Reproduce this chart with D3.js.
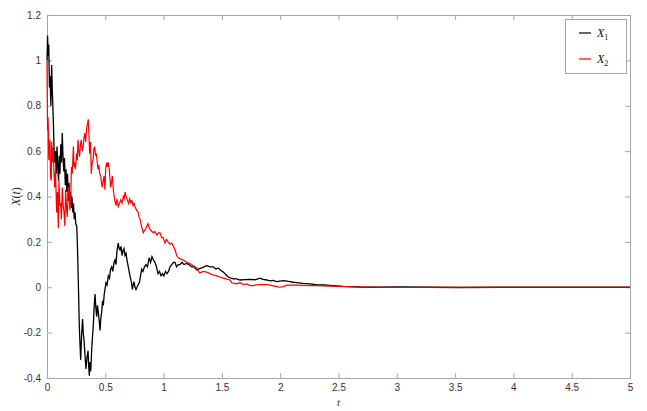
<html>
<head>
  <meta charset="utf-8">
  <title>X(t) sample paths</title>
  <script src="https://d3js.org/d3.v7.min.js"></script>
  <style>
    body { margin: 0; background: #fff; }
    .tick text { font-family: "Liberation Sans", Arial, sans-serif; font-size: 10px; fill: #333; }
  </style>
</head>
<body>
  <svg width="647" height="411"></svg>
  <script>
    // path X1 (black)
    const tX1 = [0, 0.003, 0.005, 0.010, 0.015, 0.021, 0.027, 0.033, 0.040, 0.046, 0.054, 0.060, 0.067, 0.073, 0.079, 0.086, 0.093, 0.099,
      0.105, 0.111, 0.118, 0.124, 0.131, 0.137, 0.144, 0.150, 0.157, 0.163, 0.170, 0.176, 0.183, 0.189, 0.196, 0.202, 0.208, 0.214,
      0.221, 0.227, 0.234, 0.240, 0.247, 0.255, 0.260, 0.266, 0.272, 0.277, 0.283, 0.289, 0.296, 0.305, 0.311, 0.317, 0.326, 0.334,
      0.343, 0.352, 0.358, 0.363, 0.369, 0.375, 0.383, 0.390, 0.397, 0.405, 0.412, 0.419, 0.426, 0.433, 0.440, 0.448, 0.455, 0.461,
      0.469, 0.476, 0.483, 0.491, 0.497, 0.506, 0.515, 0.526, 0.536, 0.545, 0.555, 0.564, 0.575, 0.583, 0.592, 0.600, 0.611, 0.619,
      0.626, 0.635, 0.643, 0.652, 0.660, 0.669, 0.678, 0.686, 0.697, 0.708, 0.716, 0.725, 0.732, 0.739, 0.746, 0.755, 0.763, 0.772,
      0.780, 0.792, 0.802, 0.812, 0.823, 0.836, 0.849, 0.862, 0.875, 0.888, 0.900, 0.913, 0.926, 0.939, 0.952, 0.965, 0.978, 0.991,
      1.003, 1.016, 1.029, 1.042, 1.055, 1.070, 1.085, 1.098, 1.111, 1.126, 1.141, 1.158, 1.175, 1.198, 1.218, 1.240, 1.261, 1.284,
      1.298, 1.327, 1.346, 1.370, 1.398, 1.426, 1.449, 1.469, 1.488, 1.512, 1.535, 1.555, 1.578, 1.598, 1.627, 1.655, 1.698, 1.741,
      1.784, 1.827, 1.852, 1.884, 1.913, 1.938, 1.970, 1.998, 2.027, 2.056, 2.084, 2.110, 2.142, 2.196, 2.256, 2.307, 2.370, 2.427,
      2.485, 2.539, 2.599, 2.684, 2.813, 3.027, 3.285, 3.542, 3.885, 4.228, 4.571, 5.0];
    const x1 = [1.00, 1.06, 1.11, 1.02, 1.07, 0.88, 0.93, 0.80, 0.98, 0.86, 0.74, 0.62, 0.55, 0.60, 0.50, 0.62, 0.52, 0.47,
      0.58, 0.50, 0.63, 0.55, 0.68, 0.58, 0.51, 0.57, 0.45, 0.52, 0.42, 0.50, 0.38, 0.46, 0.36, 0.42, 0.35, 0.40,
      0.33, 0.37, 0.30, 0.33, 0.28, 0.27, 0.20, 0.08, -0.05, -0.17, -0.25, -0.32, -0.22, -0.14, -0.20, -0.23, -0.30, -0.36,
      -0.31, -0.28, -0.35, -0.39, -0.33, -0.37, -0.28, -0.22, -0.17, -0.08, -0.03, -0.09, -0.13, -0.08, -0.11, -0.15, -0.19, -0.14,
      -0.11, -0.06, -0.08, -0.03, -0.01, 0.02, 0.01, 0.05, 0.04, 0.08, 0.09, 0.07, 0.11, 0.12, 0.10, 0.16, 0.195, 0.17,
      0.165, 0.18, 0.14, 0.16, 0.17, 0.14, 0.15, 0.12, 0.09, 0.06, 0.04, 0.02, -0.01, 0.01, 0.025, 0.00, -0.01, 0.00,
      0.01, 0.02, 0.05, 0.08, 0.07, 0.09, 0.10, 0.09, 0.13, 0.11, 0.135, 0.12, 0.11, 0.09, 0.06, 0.07, 0.05, 0.06,
      0.05, 0.07, 0.06, 0.07, 0.09, 0.10, 0.11, 0.11, 0.09, 0.10, 0.10, 0.11, 0.10, 0.105, 0.10, 0.09, 0.09, 0.076,
      0.08, 0.085, 0.09, 0.095, 0.09, 0.09, 0.08, 0.085, 0.075, 0.067, 0.055, 0.045, 0.04, 0.037, 0.037, 0.032, 0.034, 0.035,
      0.033, 0.04, 0.035, 0.032, 0.028, 0.03, 0.025, 0.027, 0.029, 0.027, 0.025, 0.022, 0.02, 0.017, 0.015, 0.012, 0.01, 0.008,
      0.006, 0.004, 0.003, 0.001, 0.000, 0.001, 0.000, -0.001, 0.000, 0.000, 0.000, 0.000];

    // path X2 (red)
    const tX2 = [0, 0.003, 0.005, 0.009, 0.011, 0.015, 0.020, 0.026, 0.030, 0.037, 0.040, 0.047, 0.054, 0.060, 0.066, 0.073, 0.079, 0.083,
      0.090, 0.097, 0.103, 0.110, 0.117, 0.124, 0.131, 0.139, 0.146, 0.153, 0.160, 0.167, 0.174, 0.182, 0.189, 0.196, 0.203, 0.210,
      0.217, 0.226, 0.232, 0.238, 0.244, 0.255, 0.260, 0.266, 0.273, 0.280, 0.287, 0.294, 0.303, 0.311, 0.317, 0.323, 0.332, 0.340,
      0.347, 0.354, 0.360, 0.366, 0.373, 0.380, 0.388, 0.395, 0.402, 0.409, 0.416, 0.423, 0.431, 0.437, 0.444, 0.452, 0.461, 0.467,
      0.474, 0.482, 0.489, 0.497, 0.503, 0.512, 0.519, 0.526, 0.534, 0.546, 0.555, 0.560, 0.569, 0.576, 0.583, 0.592, 0.600, 0.611,
      0.622, 0.632, 0.643, 0.654, 0.662, 0.669, 0.678, 0.689, 0.699, 0.709, 0.720, 0.726, 0.738, 0.746, 0.755, 0.768, 0.783, 0.789,
      0.798, 0.806, 0.815, 0.826, 0.836, 0.849, 0.866, 0.879, 0.892, 0.912, 0.926, 0.943, 0.956, 0.969, 0.982, 0.995, 1.012, 1.025,
      1.038, 1.055, 1.070, 1.085, 1.098, 1.112, 1.126, 1.145, 1.169, 1.198, 1.226, 1.255, 1.284, 1.298, 1.312, 1.338, 1.370, 1.398,
      1.426, 1.455, 1.484, 1.512, 1.541, 1.569, 1.584, 1.598, 1.627, 1.655, 1.684, 1.713, 1.741, 1.755, 1.784, 1.827, 1.884, 1.913,
      1.941, 1.970, 1.998, 2.027, 2.056, 2.093, 2.142, 2.196, 2.256, 2.307, 2.370, 2.427, 2.485, 2.556, 2.624, 2.727, 2.856, 3.027,
      3.285, 3.628, 4.057, 4.571, 5.0];
    const x2 = [1.00, 0.79, 0.69, 0.75, 0.71, 0.56, 0.60, 0.65, 0.49, 0.47, 0.64, 0.55, 0.62, 0.50, 0.44, 0.52, 0.40, 0.33,
      0.42, 0.26, 0.47, 0.36, 0.37, 0.30, 0.44, 0.36, 0.33, 0.27, 0.43, 0.35, 0.31, 0.44, 0.44, 0.34, 0.38, 0.53,
      0.50, 0.62, 0.53, 0.55, 0.52, 0.59, 0.56, 0.65, 0.60, 0.575, 0.63, 0.65, 0.60, 0.62, 0.66, 0.68, 0.64, 0.70,
      0.72, 0.74, 0.67, 0.59, 0.64, 0.50, 0.55, 0.56, 0.61, 0.62, 0.58, 0.59, 0.55, 0.52, 0.54, 0.50, 0.49, 0.46,
      0.44, 0.47, 0.49, 0.43, 0.52, 0.55, 0.53, 0.55, 0.52, 0.44, 0.47, 0.49, 0.43, 0.40, 0.38, 0.36, 0.39, 0.355,
      0.37, 0.385, 0.37, 0.40, 0.39, 0.42, 0.40, 0.385, 0.37, 0.39, 0.37, 0.385, 0.36, 0.37, 0.355, 0.34, 0.33, 0.31,
      0.30, 0.28, 0.26, 0.24, 0.25, 0.26, 0.28, 0.26, 0.25, 0.24, 0.245, 0.23, 0.24, 0.24, 0.22, 0.22, 0.195, 0.21,
      0.20, 0.19, 0.195, 0.18, 0.165, 0.14, 0.13, 0.125, 0.12, 0.11, 0.105, 0.095, 0.085, 0.07, 0.063, 0.07, 0.067, 0.06,
      0.054, 0.05, 0.045, 0.04, 0.036, 0.032, 0.02, 0.018, 0.015, 0.02, 0.012, 0.015, 0.008, 0.006, 0.009, 0.012, 0.012, 0.009,
      0.006, 0.003, 0.000, 0.003, 0.009, 0.009, 0.009, 0.008, 0.007, 0.007, 0.006, 0.005, 0.004, 0.003, 0.002, 0.001, 0.000, -0.001,
      0.000, 0.000, 0.000, 0.000, 0.000];

    const xTicks = [0, 0.5, 1, 1.5, 2, 2.5, 3, 3.5, 4, 4.5, 5];
    const yTicks = [-0.4, -0.2, 0, 0.2, 0.4, 0.6, 0.8, 1, 1.2];

    const svg = d3.select("svg");
    const plotL = 47, plotR = 630, plotT = 15, plotB = 378;
    const axisColor = "#a6a6a6";

    const x = d3.scaleLinear().domain([0, 5]).range([plotL, plotR]);
    const y = d3.scaleLinear().domain([-0.4, 1.2]).range([plotB, plotT]);

    function styleAxis(g) {
      g.select(".domain").remove();
      g.selectAll(".tick line").attr("stroke", axisColor);
    }

    // bottom & left with labels, top & right ticks only (ticks point inward)
    svg.append("g").attr("transform", `translate(0,${plotB})`)
      .call(d3.axisBottom(x).tickValues(xTicks).tickSize(-5).tickPadding(6).tickFormat(d3.format("")))
      .call(styleAxis);
    svg.append("g").attr("transform", `translate(${plotL},0)`)
      .call(d3.axisLeft(y).tickValues(yTicks).tickSize(-5).tickPadding(6).tickFormat(d => d3.format("")(+d.toFixed(1))))
      .call(styleAxis);
    svg.append("g").attr("transform", `translate(0,${plotT})`)
      .call(d3.axisTop(x).tickValues(xTicks).tickSize(-5).tickFormat(""))
      .call(styleAxis);
    svg.append("g").attr("transform", `translate(${plotR},0)`)
      .call(d3.axisRight(y).tickValues(yTicks).tickSize(-5).tickFormat(""))
      .call(styleAxis);

    svg.selectAll(".tick text").text(function () { return this.textContent.replace("−", "-"); });

    svg.append("rect")
      .attr("x", plotL + 0.5).attr("y", plotT + 0.5)
      .attr("width", plotR - plotL).attr("height", plotB - plotT)
      .attr("fill", "none").attr("stroke", axisColor);

    const line = d3.line().x(d => x(d[0])).y(d => y(d[1]));

    svg.append("path")
      .datum(d3.zip(tX1, x1))
      .attr("d", line)
      .attr("fill", "none").attr("stroke", "#000").attr("stroke-width", 1.3)
      .attr("stroke-linejoin", "miter");

    svg.append("path")
      .datum(d3.zip(tX2, x2))
      .attr("d", line)
      .attr("fill", "none").attr("stroke", "#ff0000").attr("stroke-width", 1.2)
      .attr("stroke-linejoin", "miter");

    // axis labels (LaTeX style)
    const serif = "'Liberation Serif', 'DejaVu Serif', serif";
    const ylab = svg.append("text")
      .attr("transform", `translate(20,${(plotT + plotB) / 2}) rotate(-90)`)
      .attr("text-anchor", "middle")
      .attr("font-family", serif).attr("font-size", 12).attr("fill", "#333");
    ylab.append("tspan").attr("font-style", "italic").text("X");
    ylab.append("tspan").text("(");
    ylab.append("tspan").attr("font-style", "italic").text("t");
    ylab.append("tspan").text(")");

    svg.append("text")
      .attr("x", (plotL + plotR) / 2).attr("y", 406)
      .attr("text-anchor", "middle")
      .attr("font-family", serif).attr("font-size", 11).attr("font-style", "italic").attr("fill", "#333")
      .text("t");

    // legend
    const legendNames = ["X", "X"];
    const legendSubs = ["1", "2"];
    const legendColors = ["#000", "#ff0000"];
    svg.append("rect")
      .attr("x", 565.5).attr("y", 19.5).attr("width", 61).attr("height", 54)
      .attr("fill", "#fff").attr("stroke", axisColor);
    legendNames.forEach((n, i) => {
      const cy = 33 + i * 26;
      svg.append("line")
        .attr("x1", 579).attr("x2", 591).attr("y1", cy).attr("y2", cy)
        .attr("stroke", legendColors[i]).attr("stroke-width", 1.2);
      const t = svg.append("text")
        .attr("x", 597).attr("y", cy + 4)
        .attr("font-family", serif).attr("font-size", 12).attr("fill", "#111");
      t.append("tspan").attr("font-style", "italic").text(n);
      t.append("tspan").attr("font-size", 8).attr("dy", 3).text(legendSubs[i]);
    });
  </script>
</body>
</html>
